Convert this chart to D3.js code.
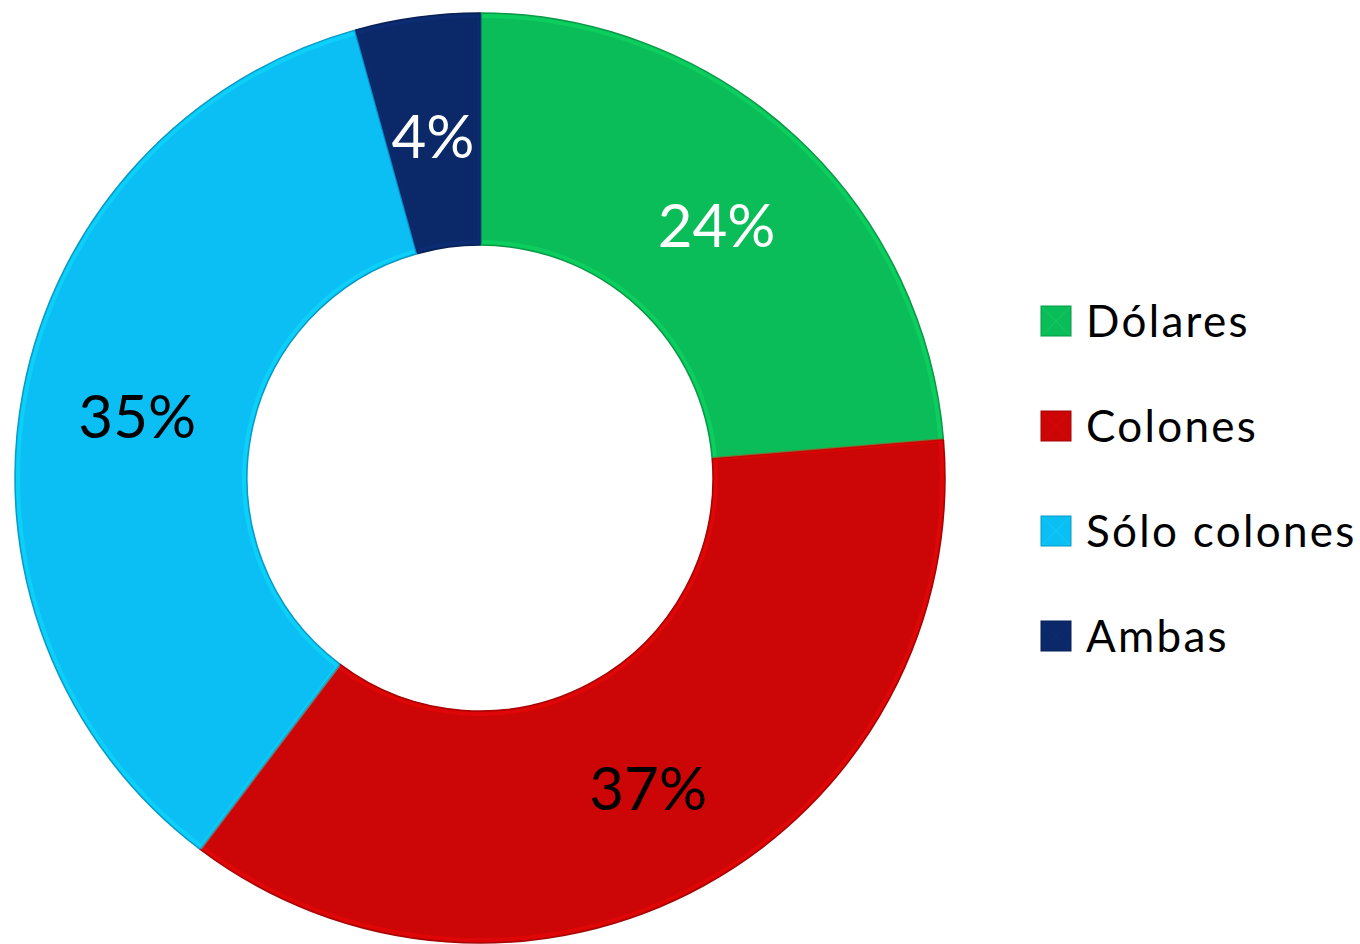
<!DOCTYPE html>
<html>
<head>
<meta charset="utf-8">
<script src="https://cdn.jsdelivr.net/npm/d3@7"></script>
<style>
  body { margin: 0; background: #fff; }
  svg { display: block; font-family: Lato, "Open Sans", sans-serif; }
</style>
</head>
<body>
<svg width="1360" height="944"></svg>
<script>
const categories = ['Dólares', 'Colones', 'Sólo colones', 'Ambas'];
const values = [23.7, 36.6, 35.4, 4.3]; // shares
const colors = ['#0bbd58', '#cc0606', '#0bbff4', '#0b2868'];
const labelColors = ['#fff', '#000', '#000', '#fff'];

const svg = d3.select('svg');
const width = +svg.attr('width');
const height = +svg.attr('height');

const cx = 480, cy = 478;
const outerR = 465, innerR = 233;

const data = categories.map((c, i) => ({ name: c, value: values[i], color: colors[i], label: labelColors[i] }));

const pie = d3.pie().value(d => d.value).sort(null);
const arc = d3.arc().innerRadius(innerR).outerRadius(outerR);

const g = svg.append('g').attr('transform', `translate(${cx}, ${cy})`);

const slices = g.selectAll('g.slice')
  .data(pie(data))
  .join('g')
    .attr('class', 'slice');

slices.append('path')
  .attr('d', arc)
  .attr('fill', d => d.data.color)
  .attr('stroke', d => d3.color(d.data.color).darker(0.6))
  .attr('stroke-width', 1.5)
  .attr('stroke-linejoin', 'round');

// soft bevel highlight just inside each edge
const bevel = d3.arc().innerRadius(innerR + 3).outerRadius(outerR - 3);
slices.append('path')
  .attr('d', bevel)
  .attr('fill', 'none')
  .attr('stroke', d => d3.color(d.data.color).brighter(0.5))
  .attr('stroke-opacity', 0.45)
  .attr('stroke-width', 4);

slices.append('text')
  .attr('transform', d => `translate(${arc.centroid(d)})`)
  .attr('text-anchor', 'middle')
  .attr('dy', '0.43em')
  .attr('font-size', 60)
  .attr('fill', d => d.data.label)
  .text(d => Math.round(d.data.value) + '%');

// legend
const legendY = d3.scalePoint().domain(categories).range([321, 636]);

const legend = svg.append('g')
  .selectAll('g')
  .data(data)
  .join('g')
    .attr('transform', d => `translate(1041, ${legendY(d.name)})`);

legend.append('rect')
  .attr('x', 0)
  .attr('y', -15)
  .attr('width', 30)
  .attr('height', 30)
  .attr('fill', d => d.color)
  .attr('stroke', d => d3.color(d.color).darker(0.6))
  .attr('stroke-width', 1);

legend.append('path')
  .attr('d', 'M1,-14L15,0L29,-14M1,14L15,0L29,14')
  .attr('fill', 'none')
  .attr('stroke', d => d3.color(d.color).brighter(0.4))
  .attr('stroke-opacity', 0.5)
  .attr('stroke-width', 1);

legend.append('text')
  .attr('x', 45)
  .attr('dy', '0.36em')
  .attr('font-size', 44)
  .attr('letter-spacing', 2.3)
  .attr('fill', '#000')
  .text(d => d.name);
</script>
</body>
</html>
